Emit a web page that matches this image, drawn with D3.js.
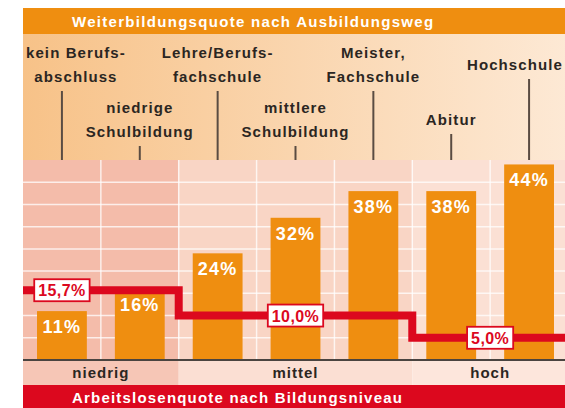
<!DOCTYPE html>
<html>
<head>
<meta charset="utf-8">
<script src="https://cdn.jsdelivr.net/npm/d3@7"></script>
<style>
  body { margin: 0; background: #fff; }
  svg { display: block; font-family: "Liberation Sans", Arial, sans-serif; font-weight: bold; }
</style>
</head>
<body>
<script>
// Weiterbildungsquote by path of education, Arbeitslosenquote by level
const pathLabels = [
  ["kein Berufs-", "abschluss"],
  ["niedrige", "Schulbildung"],
  ["Lehre/Berufs-", "fachschule"],
  ["mittlere", "Schulbildung"],
  ["Meister,", "Fachschule"],
  ["Abitur"],
  ["Hochschule"]
];
const quotes = [11, 16, 24, 32, 38, 38, 44];
const levels = ["niedrig", "mittel", "hoch"];
const levelOfPath = ["niedrig", "niedrig", "mittel", "mittel", "mittel", "hoch", "hoch"];
const unemployment = [15.7, 10.0, 5.0];
const unemploymentLabels = ["15,7%", "10,0%", "5,0%"];
const topTitle = "Weiterbildungsquote nach Ausbildungsweg";
const bottomTitle = "Arbeitslosenquote nach Bildungsniveau";

const width = 565, height = 408;
const left = 23, right = 568;
const plotTop = 160, plotBottom = 360;

const levelColors = {niedrig: "#f4bcaa", mittel: "#f9d5c5", hoch: "#fbe0d4"};
const levelBandColors = {niedrig: "#f6c6b6", mittel: "#fbdfd3", hoch: "#fde6dc"};
const orange = "#ef8e10", red = "#dc081e";

const ids = d3.range(pathLabels.length);

const cell = d3.scaleBand().domain(ids).range([left, right]);
const x = d3.scaleBand().domain(ids).range([left, right])
  .paddingInner(0.36).paddingOuter(0.18);
const y = d3.scaleLinear().domain([0, 45]).range([plotBottom, plotTop]);

const svg = d3.select("body").append("svg")
  .attr("width", width)
  .attr("height", height);

const defs = svg.append("defs");
const grad = defs.append("linearGradient").attr("id", "hdr")
  .attr("x1", 0).attr("x2", 1).attr("y1", 0).attr("y2", 0);
grad.append("stop").attr("offset", 0).attr("stop-color", "#f7c288");
grad.append("stop").attr("offset", 1).attr("stop-color", "#fde9d5");

// group extents
const groups = levels.map((lv, i) => {
  const members = ids.filter(d => levelOfPath[d] === lv);
  return {
    level: lv, i,
    x0: cell(members[0]),
    x1: cell(members[members.length - 1]) + cell.bandwidth(),
    first: members[0]
  };
});

// header
svg.append("rect")
  .attr("x", left).attr("y", 34).attr("width", right - left).attr("height", plotTop - 34)
  .attr("fill", "url(#hdr)");
svg.append("rect")
  .attr("x", left).attr("y", 8).attr("width", right - left).attr("height", 26)
  .attr("fill", orange);
svg.append("text")
  .attr("x", 72).attr("y", 27)
  .attr("fill", "#fff")
  .style("font-size", "15px")
  .style("letter-spacing", "1.3px")
  .text(topTitle);

// plot background per level
svg.selectAll("rect.lvl").data(groups).join("rect")
  .attr("class", "lvl")
  .attr("x", d => d.x0).attr("y", plotTop)
  .attr("width", d => d.x1 - d.x0).attr("height", plotBottom - plotTop)
  .attr("fill", d => levelColors[d.level]);

svg.selectAll("rect.lvlband").data(groups).join("rect")
  .attr("class", "lvlband")
  .attr("x", d => d.x0).attr("y", plotBottom)
  .attr("width", d => d.x1 - d.x0).attr("height", 25)
  .attr("fill", d => levelBandColors[d.level]);

// grid
svg.append("g").selectAll("line").data(y.ticks(9).filter(t => t > 0 && t < 45)).join("line")
  .attr("x1", left).attr("x2", right)
  .attr("y1", d => y(d)).attr("y2", d => y(d))
  .attr("stroke", "#fff").attr("stroke-opacity", 0.75).attr("stroke-width", 1.5);
svg.append("g").selectAll("line").data(ids.slice(1)).join("line")
  .attr("x1", d => cell(d)).attr("x2", d => cell(d))
  .attr("y1", plotTop).attr("y2", plotBottom)
  .attr("stroke", "#fff").attr("stroke-opacity", 0.75).attr("stroke-width", 1.5);

// bars
svg.selectAll("rect.bar").data(ids).join("rect")
  .attr("class", "bar")
  .attr("x", d => x(d)).attr("y", d => y(quotes[d]))
  .attr("width", x.bandwidth()).attr("height", d => y(0) - y(quotes[d]))
  .attr("fill", orange);

svg.selectAll("text.val").data(ids).join("text")
  .attr("class", "val")
  .attr("x", d => x(d) + x.bandwidth() / 2)
  .attr("y", d => y(quotes[d]) + 22)
  .attr("text-anchor", "middle")
  .attr("fill", "#fff")
  .style("font-size", "18px")
  .style("letter-spacing", "1.2px")
  .text(d => quotes[d] + "%");

// baseline
svg.append("line")
  .attr("x1", left).attr("x2", right)
  .attr("y1", y(0)).attr("y2", y(0))
  .attr("stroke", "#4a4440").attr("stroke-width", 2);

// step line of unemployment
const stepPts = [];
groups.forEach((g, i) => {
  stepPts.push([i === 0 ? left : g.x0, y(unemployment[i])]);
  stepPts.push([g.x1, y(unemployment[i])]);
});
svg.append("path")
  .attr("d", d3.line()(stepPts))
  .attr("fill", "none")
  .attr("stroke", red)
  .attr("stroke-width", 8)
  .attr("stroke-linejoin", "miter");

// value boxes: first one sits over the first bar, the others at group centre
const boxes = svg.selectAll("g.box").data(groups).join("g")
  .attr("class", "box")
  .attr("transform", d => {
    const cx = d.i === 0 ? x(d.first) + x.bandwidth() / 2 : (d.x0 + d.x1) / 2;
    return "translate(" + cx + "," + y(unemployment[d.i]) + ")";
  });
boxes.append("rect");
boxes.append("text")
  .attr("y", 6)
  .attr("text-anchor", "middle")
  .attr("fill", red)
  .style("font-size", "16px")
  .style("letter-spacing", "0.4px")
  .text(d => unemploymentLabels[d.i]);
boxes.each(function () {
  const g = d3.select(this);
  const w = g.select("text").node().getComputedTextLength() + 8;
  g.select("rect")
    .attr("x", -w / 2).attr("y", -11).attr("width", w).attr("height", 22)
    .attr("fill", "#fff").attr("stroke", red).attr("stroke-width", 1.8);
});

// level names
svg.selectAll("text.lvl").data(groups).join("text")
  .attr("class", "lvl")
  .attr("x", d => (d.x0 + d.x1) / 2)
  .attr("y", 378)
  .attr("text-anchor", "middle")
  .attr("fill", "#2b2622")
  .style("font-size", "15px")
  .style("letter-spacing", "1px")
  .text(d => d.level);

// bottom title band
svg.append("rect")
  .attr("x", left).attr("y", 385).attr("width", right - left).attr("height", 30)
  .attr("fill", red);
svg.append("text")
  .attr("x", 72).attr("y", 403)
  .attr("fill", "#fff")
  .style("font-size", "15px")
  .style("letter-spacing", "1.2px")
  .text(bottomTitle);

// header labels with tick lines, alternating rows
const hdr = svg.selectAll("g.hdr").data(ids).join("g").attr("class", "hdr");
hdr.each(function (d) {
  const g = d3.select(this);
  const lines = pathLabels[d];
  const cx = x(d) + x.bandwidth() / 2;
  const rowMid = d % 2 === 0 ? 65 : 120;
  const firstCenter = rowMid - (lines.length - 1) * 12;
  const t = g.append("text")
    .attr("fill", "#2b2622")
    .attr("text-anchor", "middle")
    .style("font-size", "15px")
    .style("letter-spacing", "1.1px");
  lines.forEach((s, k) => {
    t.append("tspan").attr("x", cx).attr("y", firstCenter + k * 24 + 5).text(s);
  });
  // keep labels inside the chart
  const bb = t.node().getBBox();
  let shift = 0;
  if (bb.x < left + 3) shift = left + 3 - bb.x;
  if (bb.x + bb.width > width - 2) shift = width - 2 - (bb.x + bb.width);
  t.attr("transform", "translate(" + shift + ",0)");
  const lastCenter = firstCenter + (lines.length - 1) * 24;
  g.append("line")
    .attr("x1", cx).attr("x2", cx)
    .attr("y1", lastCenter + 14).attr("y2", plotTop)
    .attr("stroke", "#5a4c42").attr("stroke-width", 2);
});
</script>
</body>
</html>
